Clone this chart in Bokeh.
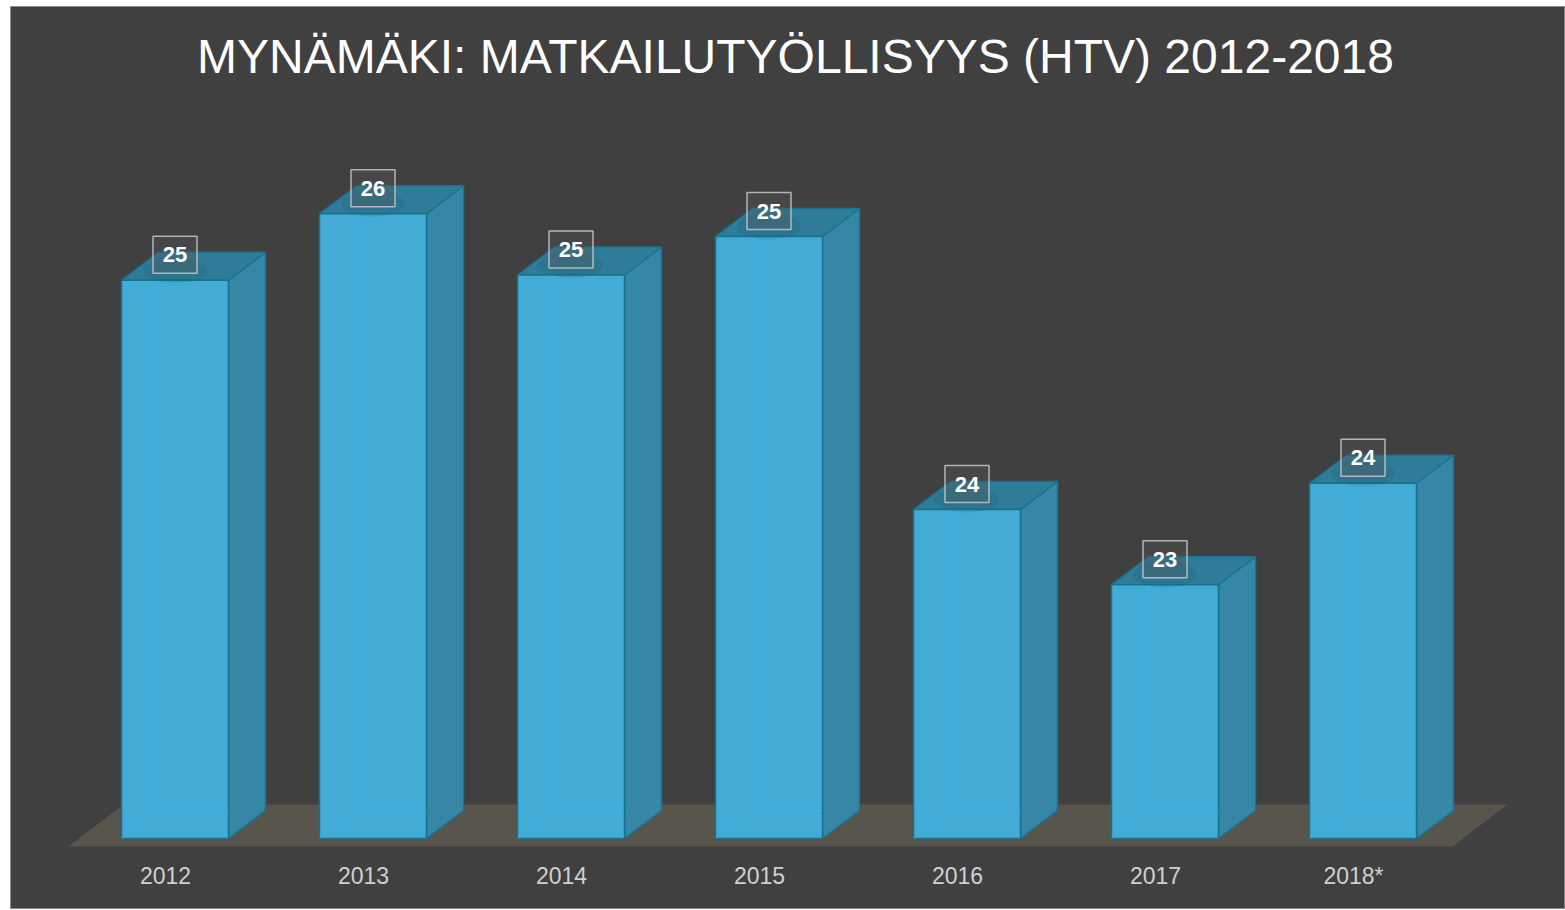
from bokeh.plotting import figure
from bokeh.models import ColumnDataSource, Range1d
from bokeh.core.properties import value
from bokeh.embed import file_html
from bokeh.resources import INLINE

# ---- data ----
years = ["2012", "2013", "2014", "2015", "2016", "2017", "2018*"]
htv = [25.19, 25.57, 25.22, 25.44, 23.88, 23.45, 24.03]
labels = ["25", "26", "25", "25", "24", "23", "24"]
title_text = "MYNÄMÄKI: MATKAILUTYÖLLISYYS (HTV) 2012-2018"
BASE = 22.0  # value axis minimum

# ---- geometry ----
W, H = 1565, 910
ML, MT, MB = 10, 6, 2            # white margins round the dark chart area
FW, FH = W - ML, H - MT - MB     # frame size
PXX, PXY = 198.0, 175.0          # pixels per category / per value unit
x0 = (ML - 174.5) / PXX
y1 = BASE + (838 - MT) / PXY
x_range = Range1d(x0, x0 + FW / PXX)
y_range = Range1d(y1 - FH / PXY, y1)

HW = 53.5 / PXX                  # half bar width
DX, DY = 37 / PXX, 28 / PXY      # 3D depth offset

p = figure(width=W, height=H, x_range=x_range, y_range=y_range,
           x_axis_location=None, y_axis_location=None,
           toolbar_location=None, output_backend="svg",
           min_border_left=ML, min_border_top=MT, min_border_bottom=MB,
           min_border_right=0,
           background_fill_color="#404040", border_fill_color="white",
           outline_line_color="#8a8a8a", outline_line_width=1)
p.grid.grid_line_color = None

n = len(years)
idx = list(range(n))

# floor
fx_front0 = -0.5 - 7.5 / PXX
fx_front1 = n - 1 + 0.5 - 9.5 / PXX
fdx, fdy = 55 / PXX, 42 / PXY
fy = BASE - 8 / PXY
p.patch([fx_front0, fx_front1, fx_front1 + fdx, fx_front0 + fdx],
        [fy, fy, fy + fdy, fy + fdy], fill_color="#58554d", line_color=None)

left = [i - HW for i in idx]
right = [i + HW for i in idx]

# right side faces
side_xs = [[r, r + DX, r + DX, r] for r in right]
side_ys = [[BASE, BASE + DY, v + DY, v] for v in htv]
p.patches(side_xs, side_ys, fill_color="#3687a6", line_color="#1a7393", line_width=1.5)

# top faces
top_xs = [[l, r, r + DX, l + DX] for l, r in zip(left, right)]
top_ys = [[v, v, v + DY, v + DY] for v in htv]
p.patches(top_xs, top_ys, fill_color="#2f7c99", line_color="#1a7393", line_width=1.5)

# front faces
src = ColumnDataSource(dict(x=idx, left=left, right=right, top=htv,
                            bottom=[BASE] * n, lab=labels, year=years))
p.quad(left="left", right="right", top="top", bottom="bottom", source=src,
       fill_color="#43acd6", line_color="#17708f", line_width=1.5)

# inner (back) edges seen through the translucent front
in_xs, in_ys = [], []
for l, r, v in zip(left, right, htv):
    in_xs += [[l + DX, l + DX], [l + DX, r], [l, l + DX]]
    in_ys += [[BASE + DY, v], [BASE + DY, BASE + DY], [BASE, BASE + DY]]
p.multi_line(in_xs, in_ys, line_color="#3ab4e4", line_alpha=0.6, line_width=1.2)

# soft shadow under value labels
p.ellipse(x=idx, y=[v + 10 / PXY for v in htv], width=64, height=26,
          width_units="screen", height_units="screen",
          fill_color="#1d4f63", fill_alpha=0.14, line_color=None)

# value labels
src2 = ColumnDataSource(dict(x=idx, y=[v + 25.5 / PXY for v in htv], lab=labels))
p.rect(x="x", y="y", width=44, height=37, width_units="screen", height_units="screen",
       source=src2, fill_color="#555555", fill_alpha=0.35,
       line_color="#c8c8c8", line_alpha=0.85, line_width=1.5)
p.text(x="x", y="y", text="lab", source=src2, text_font=value("Liberation Sans"),
       text_font_style="bold", text_font_size="22px", text_color="white",
       text_align="center", text_baseline="middle")

# category labels
src3 = ColumnDataSource(dict(x=[i - 9.5 / PXX for i in idx],
                             y=[BASE - 37 / PXY] * n, year=years))
p.text(x="x", y="y", text="year", source=src3, text_font=value("Liberation Sans"),
       text_font_size="23px", text_color="#d0d0d0",
       text_align="center", text_baseline="middle")

# title
p.text(x=[(795 - 174.5) / PXX], y=[BASE + (838 - 56) / PXY], text=[title_text],
       text_font=value("Liberation Sans"), text_font_size="48px",
       text_color="white", text_align="center", text_baseline="middle")

open("out.html", "w").write(file_html(p, INLINE))
